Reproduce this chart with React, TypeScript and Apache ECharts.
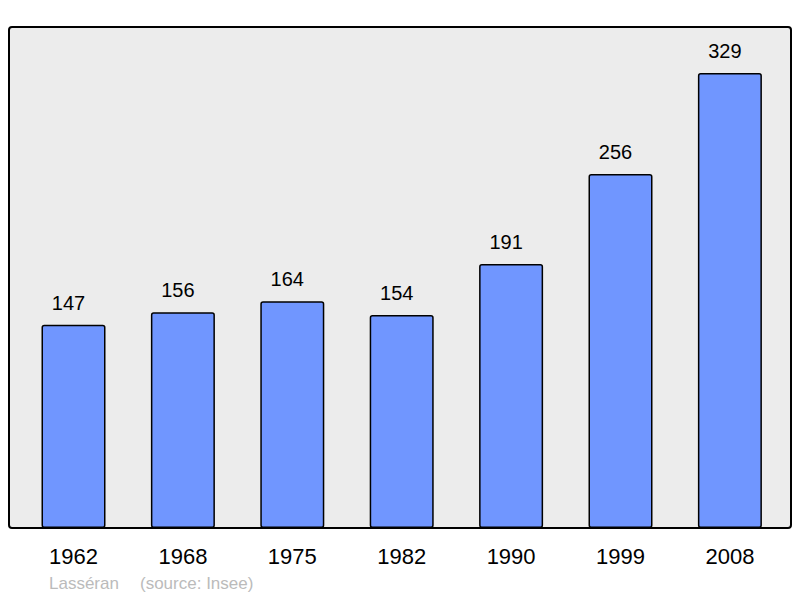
import React, { useEffect, useRef } from "react";
import * as echarts from "echarts";

const years = ["1962", "1968", "1975", "1982", "1990", "1999", "2008"];
const population = [147, 156, 164, 154, 191, 256, 329];
const footerName = "Lasséran";
const footerSource = "(source: Insee)";

export default function App() {
  const ref = useRef<HTMLDivElement>(null);
  useEffect(() => {
    if (!ref.current) return;
    const chart = echarts.init(ref.current, null, { renderer: "svg" });
    chart.setOption({
      animation: false,
      textStyle: { fontFamily: "Liberation Sans" },
      grid: { left: 18.8, right: 15.4, top: 27, bottom: 70, containLabel: false },
      xAxis: {
        type: "category",
        data: years,
        axisLine: { show: false },
        axisTick: { show: false },
        axisLabel: { fontSize: 22, color: "#000", margin: 17, fontFamily: "Liberation Sans" },
        splitLine: { show: false },
      },
      yAxis: {
        type: "value",
        min: 0,
        max: 362.3,
        show: false,
        splitLine: { show: false },
      },
      graphic: [
        {
          type: "rect",
          z: -10,
          shape: { x: 9, y: 27, width: 782, height: 501, r: 3 },
          style: { fill: "#ececec", stroke: "#000", lineWidth: 2 },
          silent: true,
        },
        {
          type: "text",
          x: 49,
          y: 583,
          style: {
            text: footerName,
            fill: "#bbbbbb",
            fontSize: 17,
            fontFamily: "Liberation Sans",
            verticalAlign: "middle",
          },
        },
        {
          type: "text",
          x: 140,
          y: 583,
          style: {
            text: footerSource,
            fill: "#bbbbbb",
            fontSize: 17,
            fontFamily: "Liberation Sans",
            verticalAlign: "middle",
          },
        },
      ],
      series: [
        {
          type: "bar",
          data: population,
          barWidth: 64,
          z: 5,
          itemStyle: {
            color: "#7096ff",
            borderColor: "#000",
            borderWidth: 1.5,
            borderRadius: 2,
          },
          label: {
            show: true,
            position: "top",
            distance: 12,
            offset: [-5, 0],
            fontSize: 20,
            color: "#000",
            fontFamily: "Liberation Sans",
          },
        },
      ],
    });
    return () => chart.dispose();
  }, []);
  return <div ref={ref} style={{ width: 800, height: 598, position: "absolute", left: 0, top: 0 }} />;
}
